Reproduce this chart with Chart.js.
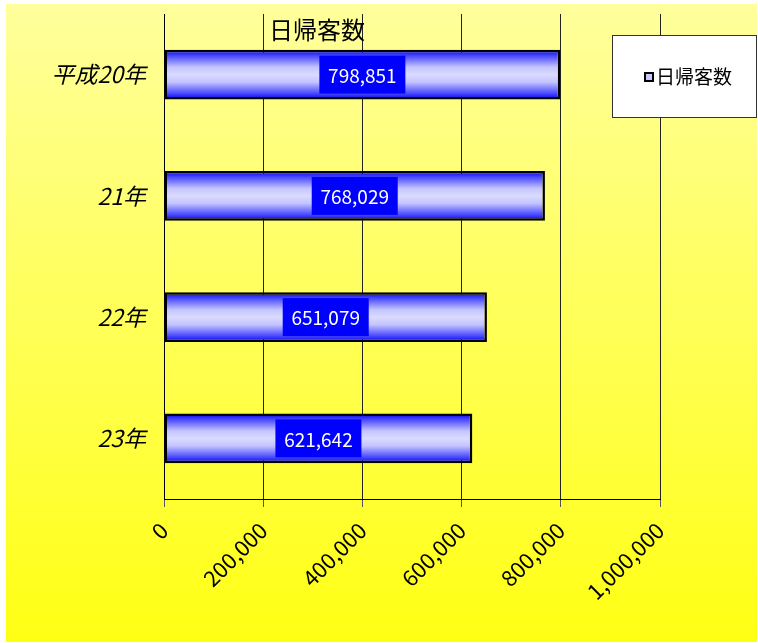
<!DOCTYPE html>
<html><head><meta charset="utf-8">
<script src="https://cdn.jsdelivr.net/npm/chart.js@4"></script>
<style>html,body{margin:0;padding:0;background:#fff;}#wrap{width:758px;height:643px;position:relative;}</style>
</head><body>
<div id="wrap"><canvas id="c" width="758" height="643"></canvas></div>
<script>
const categories = ['平成20年', '21年', '22年', '23年'];
const seriesName = '日帰客数';
const values = [798851, 768029, 651079, 621642];
const xTicks = [0, 200000, 400000, 600000, 800000, 1000000];

const JP = '"Noto Sans CJK JP", "Liberation Sans", sans-serif';
const fmt = v => v.toLocaleString('en-US');
const BAR_PCT = 0.41;

const bgPlugin = {
  id: 'bg',
  beforeDraw(chart) {
    const ctx = chart.ctx;
    ctx.save();
    ctx.fillStyle = '#fff';
    ctx.fillRect(0, 0, chart.width, chart.height);
    const g = ctx.createLinearGradient(0, 4, 0, 642);
    g.addColorStop(0, '#FFFF9C');
    g.addColorStop(1, '#FFFF14');
    ctx.fillStyle = g;
    ctx.fillRect(6, 4, 751, 638);
    ctx.restore();
  },
  afterDraw(chart) {
    const ctx = chart.ctx;
    ctx.save();
    // title
    ctx.fillStyle = '#000';
    ctx.font = '24px ' + JP;
    ctx.textAlign = 'center';
    ctx.textBaseline = 'middle';
    ctx.fillText(seriesName, 317, 30);
    // legend box
    ctx.fillStyle = '#fff';
    ctx.fillRect(612.5, 35.5, 144, 82);
    ctx.strokeStyle = '#333';
    ctx.lineWidth = 1;
    ctx.strokeRect(612.5, 35.5, 144, 82);
    ctx.fillStyle = '#C8C8FF';
    ctx.fillRect(645, 73, 8, 8);
    ctx.strokeStyle = '#000';
    ctx.lineWidth = 2;
    ctx.strokeRect(645, 73, 8, 8);
    ctx.fillStyle = '#000';
    ctx.font = '19px ' + JP;
    ctx.textAlign = 'left';
    ctx.fillText(seriesName, 656, 77);
    ctx.restore();
  }
};

const labelPlugin = {
  id: 'valueLabels',
  afterDatasetsDraw(chart) {
    const ctx = chart.ctx;
    const meta = chart.getDatasetMeta(0);
    ctx.save();
    ctx.font = '19px ' + JP;
    ctx.textAlign = 'center';
    ctx.textBaseline = 'middle';
    meta.data.forEach((bar, i) => {
      const cx = (bar.x + bar.base) / 2;
      const cy = bar.y;
      const w = 86, h = 38;
      ctx.fillStyle = '#0000FF';
      ctx.fillRect(cx - w / 2, cy - h / 2, w, h);
      ctx.fillStyle = '#fff';
      ctx.fillText(fmt(values[i]), cx, cy + 1);
    });
    ctx.restore();
  }
};

function barGradient(context) {
  const chart = context.chart;
  const ys = chart.scales.y;
  if (!ys || ys.top === undefined || isNaN(ys.getPixelForValue(context.dataIndex))) return '#C8C8FF';
  const cy = ys.getPixelForValue(context.dataIndex);
  const cat = (ys.bottom - ys.top) / categories.length;
  const half = cat * BAR_PCT / 2;
  const g = chart.ctx.createLinearGradient(0, cy - half, 0, cy + half);
  g.addColorStop(0, '#0000F0');
  g.addColorStop(0.12, '#4848FF');
  g.addColorStop(0.35, '#C4C4FF');
  g.addColorStop(0.5, '#DADAFF');
  g.addColorStop(0.65, '#C4C4FF');
  g.addColorStop(0.88, '#4848FF');
  g.addColorStop(1, '#0000F0');
  return g;
}

new Chart(document.getElementById('c'), {
  type: 'bar',
  data: {
    labels: categories,
    datasets: [{
      label: seriesName,
      data: values,
      backgroundColor: barGradient,
      borderColor: '#000',
      borderWidth: 2.5,
      borderSkipped: false,
      categoryPercentage: 1,
      barPercentage: BAR_PCT
    }]
  },
  options: {
    indexAxis: 'y',
    responsive: false,
    animation: false,
    devicePixelRatio: 1,
    layout: { padding: { left: 0, top: 14, right: 98, bottom: 0 } },
    plugins: { legend: { display: false }, title: { display: false }, tooltip: { enabled: false } },
    scales: {
      x: {
        min: 0, max: 1000000,
        afterBuildTicks(scale) { scale.ticks = xTicks.map(v => ({ value: v })); },
        afterFit(scale) { scale.height = 144; },
        grid: { color: '#222', lineWidth: 1, drawTicks: true, tickLength: 8, tickColor: '#555' },
        border: { color: '#000', width: 1 },
        ticks: {
          color: '#000', font: { size: 22, family: JP },
          minRotation: 45, maxRotation: 45, padding: 10,
          callback: v => fmt(v)
        }
      },
      y: {
        afterFit(scale) { scale.width = 164; },
        grid: { display: true, drawOnChartArea: false, drawTicks: true, tickLength: 18, tickColor: 'rgba(0,0,0,0)' },
        border: { color: '#000', width: 1 },
        ticks: {
          color: '#000', padding: 0,
          font: { size: 23, style: 'italic', family: JP }
        }
      }
    }
  },
  plugins: [bgPlugin, labelPlugin]
});
</script>
</body></html>
